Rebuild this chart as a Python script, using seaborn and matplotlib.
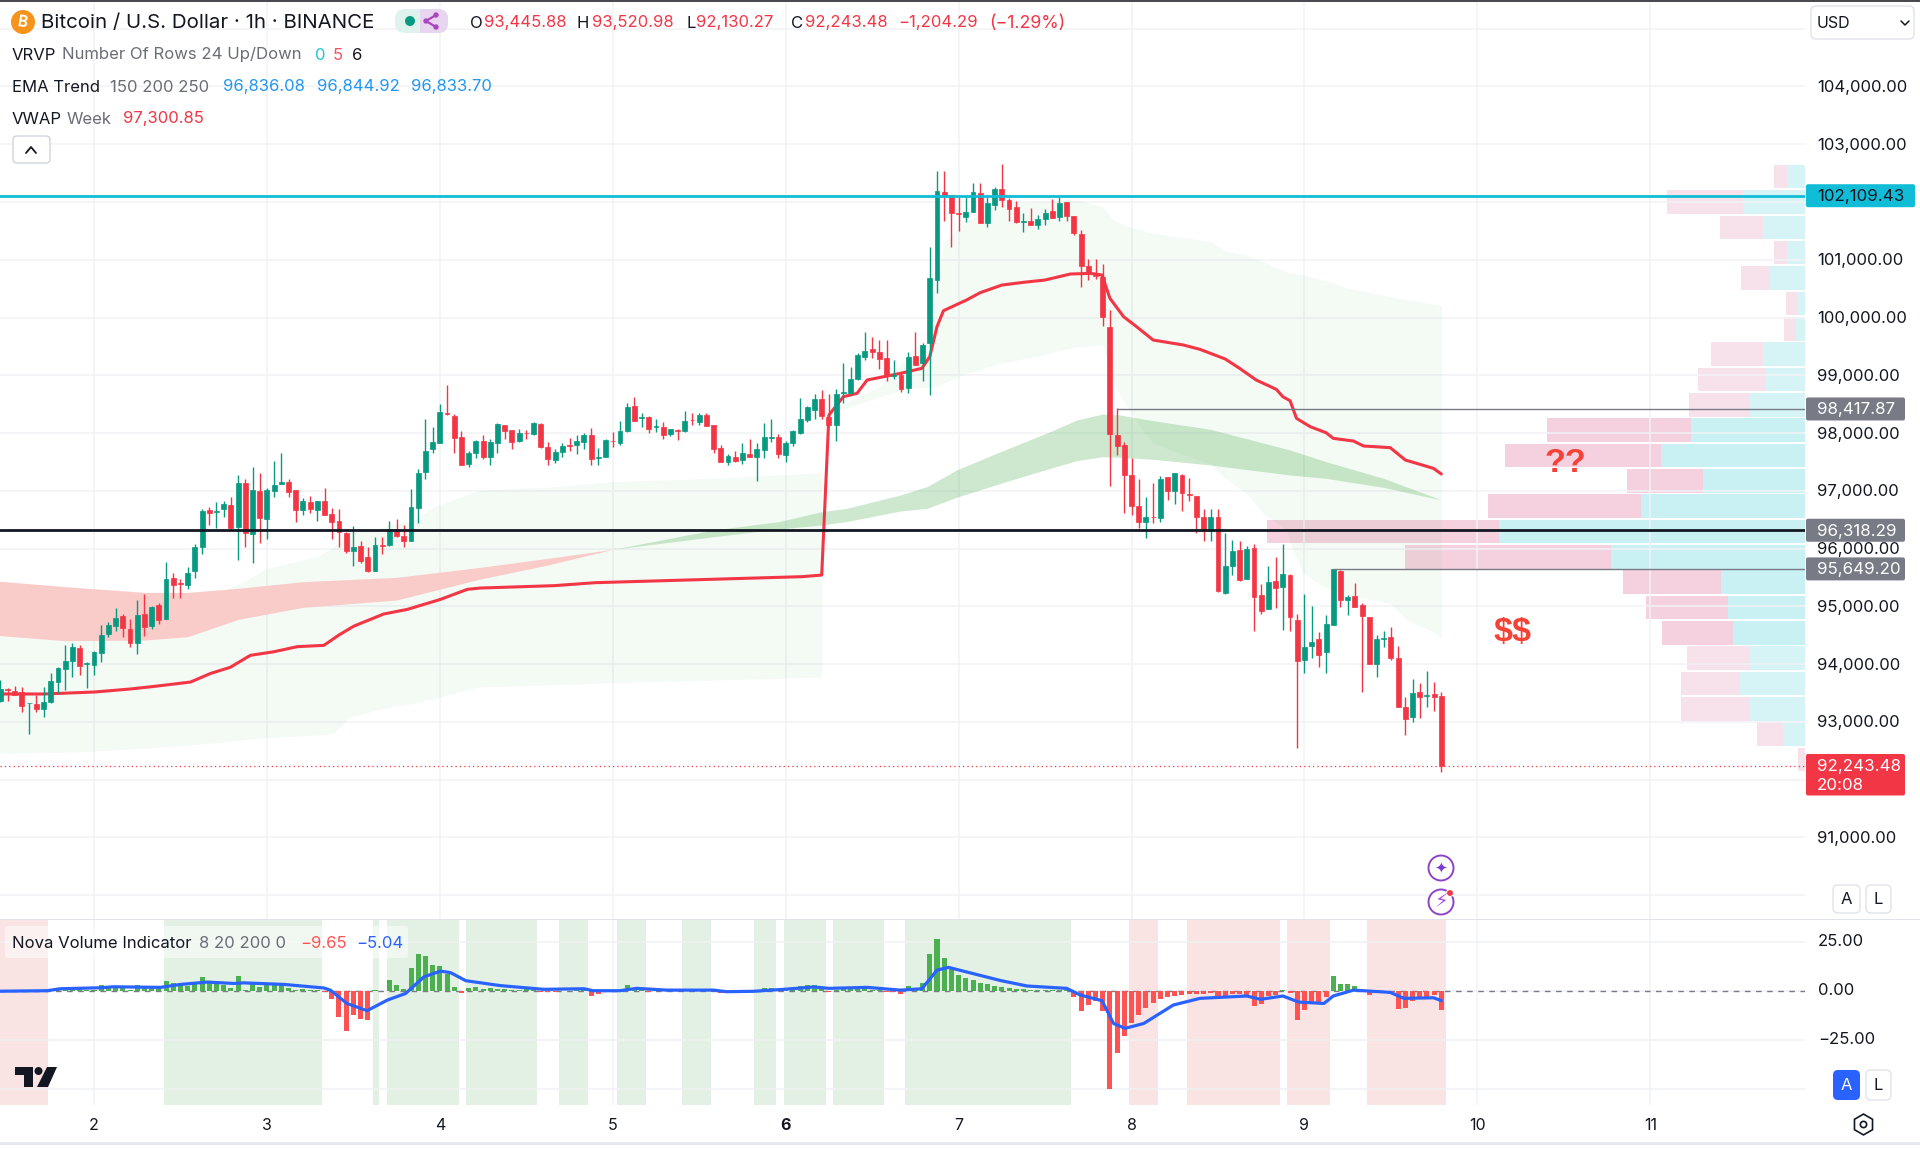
import numpy as np
import pandas as pd
import matplotlib
matplotlib.use("Agg")
import matplotlib.pyplot as plt
from matplotlib.patches import Rectangle, FancyBboxPatch, Circle, Polygon
import seaborn as sns

sns.set_theme(style="white")
plt.rcParams['font.family'] = ['Inter', 'DejaVu Sans']

# ---------- hourly candles ----------
open_ = [93362,93570,93541,93518,93322,93311,93230,93345,93697,93911,
 94061,94280,93997,93980,94199,94528,94667,94828,94603,94372,
 94863,94667,95030,94788,95492,95400,95365,95618,96034,96663,
 96634,96686,96755,96380,97130,96247,96998,96513,97003,97120,
 97153,97015,96663,96807,96663,96825,96594,96472,96276,95959,
 96046,95849,95618,96063,96069,96340,96219,96126,96698,97321,
 97719,97823,98342,98296,97938,97465,97655,97869,97592,97834,
 98146,98053,97857,98007,97990,98163,97765,97534,97667,97788,
 97794,97846,97967,97570,97592,97865,97834,98030,98469,98265,
 98284,98100,98100,97984,98060,98036,98235,98192,98313,98146,
 97742,97500,97592,97534,97638,97580,97707,97915,97938,97621,
 97823,98007,98227,98400,98596,98284,98140,98700,98701,98932,
 99324,99457,99405,99301,98990,99012,98776,99336,99219,99565,
 100650,102173,102115,101815,101746,101827,102161,101631,101954,102219,
 102035,101919,101650,101677,101608,101711,101838,101734,101994,101758,
 101446,100892,100745,100707,99830,97961,97800,97280,96738,96461,
 96554,96530,97234,96992,97280,96940,96911,96553,96311,96542,
 95226,95699,95976,95480,96011,95192,94961,95434,95342,95538,
 94765,94072,94320,94430,94211,94684,95619,95111,95180,95018,
 94811,94003,94440,94476,94107,93264,93080,93518,93450,93484,93445.88]
high = [93726,93582,93622,93599,93333,93466,93599,93853,93945,94326,
 94361,94332,94032,94234,94678,94736,94972,94863,94788,95111,
 95215,95007,95065,95769,95572,95480,95676,96080,96680,96715,
 96813,96824,96900,97280,97211,97407,97303,97044,97517,97650,
 97211,97015,96876,96911,96830,97050,96698,96686,96288,96392,
 96126,96034,96207,96196,96484,96519,96415,97026,97373,98250,
 98111,98504,98827,98325,98030,97684,97880,97961,97903,98169,
 98146,98053,98065,98053,98192,98180,97846,97719,97834,97915,
 97973,97996,98082,97742,97903,98019,98215,98515,98631,98342,
 98296,98238,98192,98077,98077,98388,98342,98353,98342,98146,
 97800,97638,97696,97834,97903,97834,98169,98238,97984,97869,
 98053,98607,98469,98677,98746,98677,98769,99209,99139,99382,
 99751,99670,99613,99613,99266,99064,99405,99751,99565,101227,
 102542,102531,102115,102081,102081,102335,102335,102092,102254,102658,
 102069,102011,101815,101896,101769,101885,102046,102092,102006,101758,
 101515,101019,101019,100927,100130,98428,97846,97569,97200,96888,
 97130,97257,97246,97315,97292,97223,96911,96680,96680,96680,
 96264,96149,96138,96046,96080,95388,95699,95861,96080,95561,
 94868,95215,95007,94557,94845,95653,95630,95192,95399,95065,
 94811,94499,94580,94649,94315,93438,93749,93668,93876,93691,93520.98]
low = [93351,93362,93466,93172,92785,93178,93091,93322,93495,93553,
 93772,93807,93582,93818,94038,94465,94568,94465,94303,94176,
 94488,94603,94695,94776,95151,95151,95301,95492,95907,96415,
 96357,96553,96346,95803,96022,95746,96103,96172,96899,97119,
 96899,96461,96588,96623,96484,96576,96172,96022,95919,95699,
 95745,95595,95607,95907,96046,96207,96034,96126,96449,97211,
 97661,97823,98313,97650,97448,97407,97569,97546,97442,97661,
 97892,97730,97846,97892,97973,97742,97442,97488,97580,97696,
 97638,97719,97442,97453,97580,97765,97800,98025,98215,98111,
 98007,98025,97903,97950,97880,98025,98134,98146,98123,97650,
 97500,97442,97500,97465,97580,97165,97569,97846,97569,97500,
 97777,97984,98192,98238,98250,98140,97857,98516,98660,98920,
 99266,99301,99105,98909,98932,98712,98701,99184,98907,98665,
 100419,101665,101227,101504,101654,101827,101631,101561,101861,101908,
 101677,101631,101481,101596,101538,101596,101717,101665,101677,101423,
 100534,100650,100661,99853,97090,97615,96611,96576,96357,96184,
 96449,96461,96842,96773,96657,96819,96265,96126,96126,95249,
 95215,95544,95445,95469,94580,94868,94949,94972,94591,94580,
 92549,93841,94107,93945,93841,94672,94984,94845,94984,93518,
 94003,93784,94303,94072,93253,92780,93000,93068,93264,93184,92130.27]
close = [93570,93553,93466,93276,93333,93218,93345,93714,93934,94061,
 94291,93968,94020,94205,94499,94672,94799,94632,94372,94857,
 94649,94995,94765,95469,95376,95390,95572,96022,96657,96617,
 96657,96767,96357,97130,96265,97015,96524,97015,97101,97153,
 96980,96669,96819,96680,96819,96588,96461,96282,95953,96034,
 95792,95607,96063,96050,96334,96224,96126,96715,97315,97696,
 97846,98365,98330,97915,97453,97650,97869,97580,97846,98157,
 98042,97846,97996,97995,98169,97753,97546,97673,97777,97775,
 97869,97961,97546,97585,97880,97855,98030,98446,98215,98280,
 98065,98115,97973,98077,98045,98215,98225,98313,98123,97730,
 97505,97603,97517,97650,97580,97730,97938,97930,97638,97834,
 98036,98238,98446,98584,98296,98140,98677,98718,98932,99359,
 99416,99399,99278,98989,99005,98759,99312,99186,99530,100684,
 102196,102104,101815,101800,101827,102173,101642,101988,102219,102035,
 101885,101648,101665,101608,101700,101815,101717,101977,101758,101458,
 100892,100777,100725,100015,97984,97776,97269,96738,96461,96553,
 96540,97211,97003,97303,96957,96925,96553,96311,96542,95261,
 95699,95959,95457,95988,95169,94915,95422,95318,95561,94811,
 94061,94303,94384,94165,94695,95642,95111,95169,94995,94834,
 94003,94441,94455,94107,93264,93045,93507,93438,93465,93438,92243.48]

# ---------- overlays (bar index, price) ----------
vwap_x = [-1,6,13,18,21.8,26.4,29.2,31.9,34.7,38,41.2,44.9,47,49.1,53.2,56.5,61.1,64.8,66.6,
          76.8,82.6,111.3,114, 115,117,118.9,120.3,124.9,127.9,129,130,130.9,134.1,136,139,142,145,148.5,
          151.3,152.9,154,155.9,157.7,160,164.2,166.5,170,172,174.3,177.1,178,179,179.9,181.8,184,185,
          187.8,189.2,192.9,195,198.9,200]
vwap_y = [93484,93484,93518,93570,93622,93691,93841,93945,94153,94216,94303,94326,94505,94661,94868,94949,95122,95295,95318,
          95359,95411,95515,95543, 98313,98630,98688,98919,99034,99121,99323,99842,100119,100304,100431,100563,100610,100650,100754,
          100765,100737,100333,100015,99842,99611,99525,99450,99283,99121,98919,98757,98630,98561,98255,98111,98007,97909,
          97863,97777,97748,97534,97390,97292]

red_x = [-1,9,20,26,33,42,55,66.6,76,85]
red_top = [95445,95342,95243,95243,95313,95428,95503,95676,95832,95988]
red_bot = [94505,94407,94418,94476,94776,94984,95111,95474,95717,95988]
grn_x = [85,99,108,114,117.5,124.9,128.6,132.7,138.8,145.7,149.4,153,155.4,160,168,179,184,192,200]
grn_top = [95988,96323,96467,96640,96698,96928,97073,97361,97678,98025,98227,98330,98313,98215,98065,97707,97505,97217,96842]
grn_bot = [95988,96207,96340,96409,96470,96651,96698,96888,97130,97390,97523,97592,97580,97546,97448,97275,97217,97061,96842]

bandA_x = [-1,11.6,23,30,33.3,37,44,46.3,48.6,52.3,55.5,57.4,60.2,66.6,75.8,85,99,114]
bandA_up = [94880,94880,94880,95226,95399,95659,95861,96034,96294,96351,96438,96496,96726,97015,97061,97159,97217,97315]
bandA_lo = [92457,92485,92572,92641,92687,92733,92774,92803,93091,93207,93293,93322,93409,93611,93640,93680,93726,93778]
bandB_x = [115,116.6,122,126,129,130,130.9,134,138.8,143.4,149.4,153,154.5,156.4,158.2,160,165,167.9,170,173,175.3,
           178.5,179.4,180.8,183.6,187,192.9,195.2,198.9,200]
bandB_up = [98400,98486,98804,99323,99611,100708,101285,101660,101977,102006,102035,101919,101689,101585,101516,101458,101371,101314,
            101152,101083,100967,100788,100765,100737,100650,100512,100362,100304,100235,100200]
bandB_lo = [98342,98400,98630,98775,98792,98804,98861,99034,99208,99323,99496,99525,98861,98457,98111,97823,97592,97476,
            97217,96957,96611,96323,95976,95572,95342,95197,95053,94765,94563,94447]

# ---------- volume profile, bottom row to top ----------
vp_low = 92130.27
vp_high = 102658.0
vp_up = [0.5,21.7,55,64.7,55,72,77,83.7,194.3,306.3,163.7,102.3,144.3,113.7,55,39.7,42.3,8.7,7.7,35,17.7,42.3,61.7,17.7]
vp_down = [7,26.7,68.7,59.7,62.7,71,82,98,205.3,232,153.3,75.3,156,144,60.7,67.3,52,12.3,11.3,28.7,13.3,42.7,76,13.3]
vp_value_area = [0,0,0,0,0,1,1,1,1,1,1,1,1,1,0,0,0,0,0,0,0,0,0,0]

# ---------- levels ----------
level_cyan = 102109.43
level_black = 96318.29
level_grey_hi = 98417.87
level_grey_lo = 95649.20
last_price = 92243.48
level_grey_hi_from = 155
level_grey_lo_from = 185

# ---------- Nova volume indicator ----------
hist = [-.2,-.2,-.2,-.2,-.2,-.2,-.1,.1,1,.5,
 1.5,1,.5,.5,2.9,2,1.7,1.5,.3,2.9,
 1.5,1.5,1.2,4.9,3.7,2.9,2.4,4.2,7,4.6,
 3.7,2.9,1.2,7.5,.3,4.6,2,2.9,2.9,2.9,
 1.5,.3,1,.3,.5,-.5,-4.3,-13.3,-20.4,-12.6,
 -14.3,-15,.3,-.3,5.4,2.9,.8,11.4,18.5,17.5,
 13.1,12.4,8.5,1.7,-1,1.5,1.9,.7,1.2,.9,
 .7,.3,.3,.85,.5,-.5,-.85,-.5,.1,.1,
 .4,.4,-2.9,-1.7,.1,.1,.3,2.9,.5,.2,
 -.5,.1,-.3,.2,-.2,.2,.2,.2,.2,-.85,
 -1.4,-.3,-.3,-.2,-.2,.3,1.4,1.4,.2,.2,
 .5,2.5,2.7,2.7,1,-.8,.5,.7,.7,.7,
 .7,.5,.5,-.7,-.7,-1.7,2.4,.3,3.7,18.9,
 26.4,16.7,10.9,8,6.3,5.4,3.7,3.2,2.6,1.7,
 1.5,.85,.85,.5,.5,.5,.5,.5,.5,-3,
 -10.2,-7.5,-5.1,-10.2,-50.3,-31.6,-23.1,-16.7,-12.4,-9,
 -6.5,-4.4,-3.4,-2.7,-2,-1.9,-1.7,-1.7,-1.4,-4.4,
 -3.4,-1.7,-1.7,-2,-7.8,-6.8,-2.7,-2.4,.15,-1.4,
 -15,-9.9,-6.5,-5.6,-3.4,7.5,3.6,3.4,2.6,.2,
 -2,-1.4,-.3,-1.7,-9.5,-8.7,-5.1,-3.9,-3.4,-2.4,-9.65]
sig_x = [-1,6.5,8.3,13.9,15.7,22.2,25,28.7,32.4,33.8,39.4,44.9,45.8,48.1,50.9,53.7,56.25,58.8,61.1,62.5,64.6,
         69.4,75.4,81,82.3,86,88.3,92.5,99,100.8,104.5,108.7,112.9,115,120.3,124.9,127.9,130,131.6,138.8,
         142.5,148,149.9,152.9,154.5,156.1,158.7,162.8,166.5,173,174.9,178,180.2,183.7,185,187.8,192.9,194.8,198.9,200]
sig_y = [-.3,0,1,1.5,2,1.7,3.2,4.4,3.7,4,3.2,1.4,.3,-6.5,-10.2,-4.8,-1.4,7.1,10,9.2,5.1,
         2.6,.7,1,0,0,1.2,.3,.3,-.5,-.3,.7,1.9,1.2,1.7,.3,1,10.5,11.9,5.2,
         2.4,1.2,-2.2,-5.1,-16.7,-19.2,-16.7,-7.3,-3.9,-2.7,-4.4,-2.7,-5.8,-6.5,-2.7,.3,-.85,-3.9,-3.6,-5.04]
green_spans = [(22.7,44.7),(51.7,52.6),(53.7,63.7),(64.6,74.5),(77.6,81.6),(85.6,89.6),(94.6,98.6),
               (104.6,107.7),(108.7,114.6),(115.6,122.7),(125.6,148.6)]
red_spans = [(-1,6.65),(156.7,160.7),(164.7,177.6),(178.6,184.6),(189.7,200.7)]

day_ticks = [13,37,61,85,109,133,157,181,205,229]
day_labels = ['2','3','4','5','6','7','8','9','10','11']
price_ticks = [91000,93000,94000,95000,96000,97000,98000,99000,100000,101000,103000,104000]
price_grid = list(range(90000,106000,1000))
nova_ticks = [25,0,-25]
nova_grid = [25,0,-25,-50]

C_UP, C_DN = '#089981', '#f23645'
W, H = 1920, 1149
fig = plt.figure(figsize=(W/100, H/100), dpi=100, facecolor='white')

def frame(x0, x1, y0, y1):
    return [x0/W, 1-y1/H, (x1-x0)/W, (y1-y0)/H]

ax = fig.add_axes(frame(0, 1805, 1, 919))
ax2 = fig.add_axes(frame(0, 1805, 920, 1105))
ax_vp = ax.twiny()
ax.set_zorder(ax_vp.get_zorder()+1)
ax.patch.set_visible(False)

XL = (-0.046, 250.47)
YL = (89589, 105480)

# volume profile
bin_h = (vp_high-vp_low)/24
vp_y = vp_low + bin_h*(np.arange(24)+.5)
for y, u, d, va in zip(vp_y, vp_up, vp_down, vp_value_area):
    ax_vp.barh(y, u, height=bin_h*.93, color='#c9f1f4' if va else '#d6f4f6', lw=0)
    ax_vp.barh(y, d, left=u, height=bin_h*.93, color='#f5d0df' if va else '#f7e1ea', lw=0)
ax_vp.set_xlim(1805, 0)
ax_vp.axis('off')

# grid
for p in price_grid:
    ax.axhline(p, color='#f2f3f6', lw=1.1, zorder=0)
for t in day_ticks:
    ax.axvline(t, color='#f0f2f5', lw=1.1, zorder=0)
    ax2.axvline(t, color='#f0f2f5', lw=1.1, zorder=0)

# bands and ribbons
PALE = dict(color='#4caf50', alpha=.06, lw=0, zorder=1)
ax.fill_between(bandA_x, bandA_lo, bandA_up, **PALE)
ax.fill_between(bandB_x, bandB_lo, bandB_up, **PALE)
ax.fill_between(red_x, red_bot, red_top, color='#f9cbc9', lw=0, zorder=2)
ax.fill_between(grn_x, grn_bot, grn_top, color='#4caf50', alpha=.28, lw=0, zorder=2)

# VWAP
sns.lineplot(x=vwap_x, y=vwap_y, ax=ax, color='#f23645', lw=2.2, estimator=None, sort=False, zorder=3, legend=False)

# candles
candles = pd.DataFrame({'o': open_, 'h': high, 'l': low, 'c': close})
candles['i'] = np.arange(len(candles))
candles['col'] = np.where(candles.c >= candles.o, C_UP, C_DN)
ax.vlines(candles.i, candles.l, candles.h, colors=candles.col, lw=1.0, zorder=4)
ax.bar(candles.i, (candles.c-candles.o).abs(), bottom=candles[['o','c']].min(axis=1), width=.68,
       color=candles.col, edgecolor=candles.col, lw=.5, zorder=5)

# levels
ax.axhline(level_cyan, color='#10bcd6', lw=2.0, zorder=6)
ax.axhline(level_black, color='#131722', lw=2.0, zorder=6)
ax.hlines(level_grey_hi, level_grey_hi_from, XL[1], color='#787b86', lw=1.0, zorder=6)
ax.hlines(level_grey_lo, level_grey_lo_from, XL[1], color='#787b86', lw=1.0, zorder=6)
ax.axhline(last_price, color='#f23645', lw=.9, ls=(0, (1, 2.5)), zorder=6)

ax.set_xlim(*XL); ax.set_ylim(*YL)
ax.set_xticks([]); ax.set_yticks([]); ax.set_xlabel(''); ax.set_ylabel('')
ax_vp.set_ylim(*YL)

# Nova panel
for a, b in green_spans:
    ax2.axvspan(a, b, color='#e3f1e4', lw=0, zorder=1)
for a, b in red_spans:
    ax2.axvspan(a, b, color='#f9e3e3', lw=0, zorder=1)
for v in nova_grid:
    ax2.axhline(v, color='#f0f1f3', lw=1.1, zorder=1.5)
ax2.axhline(0, color='#787b86', lw=1, ls=(0, (4, 4)), zorder=2)
nova = pd.DataFrame({'i': np.arange(len(hist)), 'v': hist})
nova['c'] = np.where(nova.v >= 0, '#4caf50', '#ff5252')
ax2.bar(nova.i, nova.v, width=.7, color=nova.c, lw=0, zorder=3)
sns.lineplot(x=sig_x, y=sig_y, ax=ax2, color='#2962ff', lw=2.3, estimator=None, sort=False, zorder=4, legend=False)
ax2.set_xlim(*XL); ax2.set_ylim(-58.3, 36.07)
ax2.set_xticks([]); ax2.set_yticks([]); ax2.set_xlabel(''); ax2.set_ylabel('')

for a in (ax, ax2, ax_vp):
    for s in a.spines.values():
        s.set_visible(False)

# ---------- overlay in screen pixels ----------
ov = fig.add_axes([0, 0, 1, 1], zorder=20)
ov.set_xlim(0, W); ov.set_ylim(H, 0); ov.axis('off'); ov.patch.set_alpha(0)

def T(x, y, s, c='#131722', fs=12, ha='left', va='center', w='normal', fam=None):
    kw = {'family': fam} if fam else {}
    return ov.text(x, y+1, s, color=c, fontsize=fs, ha=ha, va=va, fontweight=w, parse_math=False, **kw)

def box(x0, y0, x1, y1, fc='white', ec='none', r=3, lw=1, alpha=None):
    ov.add_patch(FancyBboxPatch((x0+r, y0+r), x1-x0-2*r, y1-y0-2*r, boxstyle=f'round,pad={r},rounding_size={r}',
                                fc=fc, ec=ec, lw=lw, alpha=alpha))

def py(p):
    return 1 + (YL[1]-p)/(YL[1]-YL[0])*918
def ny(v):
    return 920 + (36.07-v)/(36.07+58.3)*185
def dx(i):
    return (i-XL[0])/(XL[1]-XL[0])*1805

# frame lines
ov.add_patch(Rectangle((0, 0), W, 1.5, fc='#4a4a4f', ec='none'))
ov.add_patch(Rectangle((0, 918.5), W, 1.5, fc='#e0e3eb', ec='none'))
ov.add_patch(Rectangle((0, 1142), W, 2.5, fc='#e6e7ec', ec='none'))

# header
ov.add_patch(Circle((23, 22), 12, fc='#f7931a', ec='none'))
ov.text(23, 22.5, 'B', color='white', fontsize=11, ha='center', va='center', fontweight='bold', rotation=-10)
T(41, 22, 'Bitcoin / U.S. Dollar · 1h · BINANCE', fs=14.75)
box(395, 9, 448, 33, fc='#e0f2ee', r=10)
box(420, 9, 448, 33, fc='#e8d5f0', r=10)
ov.add_patch(Rectangle((420, 9), 10, 24, fc='#e8d5f0', ec='none'))
ov.add_patch(Circle((410, 21), 5, fc='#089981', ec='none'))
for a, b in [((426, 21), (436, 15)), ((426, 21), (436, 27))]:
    ov.plot(*zip(a, b), color='#ab47bc', lw=1.6)
for p in [(426, 21), (436, 15), (436, 27)]:
    ov.add_patch(Circle(p, 2.7, fc='#ab47bc', ec='none'))
fs = 12
for x, s, c in [(470, 'O', '#131722'), (484, '93,445.88', C_DN), (577, 'H', '#131722'), (592, '93,520.98', C_DN),
                (686, 'L', '#131722'), (696, '92,130.27', C_DN), (791, 'C', '#131722'), (805, '92,243.48', C_DN),
                (898, '−1,204.29', C_DN)]:
    T(x, 22, s, c, fs)
T(989, 22, '(−1.29%)', C_DN, 12.8)
G = '#6a6d78'
T(12, 54, 'VRVP'); T(62, 54, 'Number Of Rows 24 Up/Down', G); T(315, 54, '0', '#22c3dd'); T(333, 54, '5', '#f7525f'); T(352, 54, '6')
T(12, 86, 'EMA Trend'); T(110, 86, '150 200 250', G)
for x, s in [(223, '96,836.08'), (317, '96,844.92'), (411, '96,833.70')]:
    T(x, 86, s, '#2196f3')
T(12, 118, 'VWAP'); T(67, 118, 'Week', G); T(123, 118, '97,300.85', C_DN)
box(13, 136, 50, 163, ec='#d1d4dc', r=4, lw=1)
ov.plot([26, 31, 36], [153, 147, 153], color='#131722', lw=1.3)

# USD selector
box(1811, 6, 1914, 39, ec='#e0e3eb', r=5, lw=1)
T(1817, 22, 'USD', fs=11.5)
ov.plot([1901, 1905, 1909], [21, 25, 21], color='#131722', lw=1.1)

# price scale
for p in price_ticks:
    T(1817, py(p), f'{p:,.2f}', fs=12)
def plate(p, c, tc, x1=1905, h=23, s=None):
    y = py(p)
    box(1806, y-h/2, x1, y+h/2, fc=c, r=2)
    T(1817, y, s or f'{p:,.2f}', tc, 12.2)
plate(level_grey_lo, '#787b86', 'white')
plate(96318.29, '#787b86', 'white')
plate(level_grey_hi, '#787b86', 'white')
plate(level_cyan, '#10bcd6', '#131722', x1=1915)
box(1806, 754, 1905, 795.5, fc=C_DN, r=2)
T(1817, 765, f'{last_price:,.2f}', 'white', 12.2)
T(1817, 784, '20:08', 'white', 12.2)

# hand-drawn notes
T(1565, 462, '??', '#f44336', 24.5, ha='center', w='bold', fam='Liberation Sans')
T(1512, 632, '$$', '#f44336', 24.5, ha='center', w='bold', fam='Liberation Sans')

# event icons
for y, g, sz in [(868, '✦', 11), (902, '⚡', 14)]:
    ov.add_patch(Circle((1441, y), 12.5, fc='white', ec='#8e44c8', lw=1.4))
    T(1441, y-1, g, '#7b3fd0' if y == 868 else '#b04adf', sz, ha='center', fam='DejaVu Sans')
ov.add_patch(Circle((1450, 893), 3.5, fc='#f23645', ec='white', lw=.8))

# A / L buttons
box(1833, 885, 1860, 913, ec='#e0e3eb', r=5); T(1846.5, 899, 'A', fs=12, ha='center')
box(1866, 885, 1891, 913, ec='#e0e3eb', r=5); T(1878.5, 899, 'L', fs=12, ha='center')
box(1833, 1070, 1860, 1100, fc='#2962ff', r=5); T(1846.5, 1085, 'A', 'white', 12, ha='center')
box(1866, 1070, 1891, 1100, ec='#e0e3eb', r=5); T(1878.5, 1085, 'L', fs=12, ha='center')

# Nova legend and scale
box(5, 926, 408, 958, fc='white', r=2, alpha=.5)
T(12, 942, 'Nova Volume Indicator'); T(199, 942, '8 20 200 0', G); T(300, 942, '−9.65', '#ff5252'); T(356, 942, '−5.04', '#2962ff')
for v in nova_ticks:
    T(1818, ny(v)-1, f'{v:.2f}'.replace('-', '−'), fs=12)

# time axis
for t, l in zip(day_ticks, day_labels):
    T(dx(t), 1124, l, fs=11.5, ha='center', w='bold' if l == '6' else 'normal')

# settings hexagon
ov.plot([1863], [1124], marker='h', ms=15, mfc='white', mec='#131722', mew=1.2)
ov.plot([1863], [1124], marker='o', ms=4.5, mfc='white', mec='#131722', mew=1.2)

# TradingView mark
ov.add_patch(Rectangle((15, 1067), 18, 8, fc='#131722', ec='none'))
ov.add_patch(Rectangle((24, 1067), 9, 20, fc='#131722', ec='none'))
ov.add_patch(Circle((38.5, 1071), 4, fc='#131722', ec='none'))
ov.add_patch(Polygon([(47, 1067), (57, 1067), (48, 1087), (37, 1087)], fc='#131722', ec='none'))

fig.savefig('out.png', dpi=100, facecolor='white')
